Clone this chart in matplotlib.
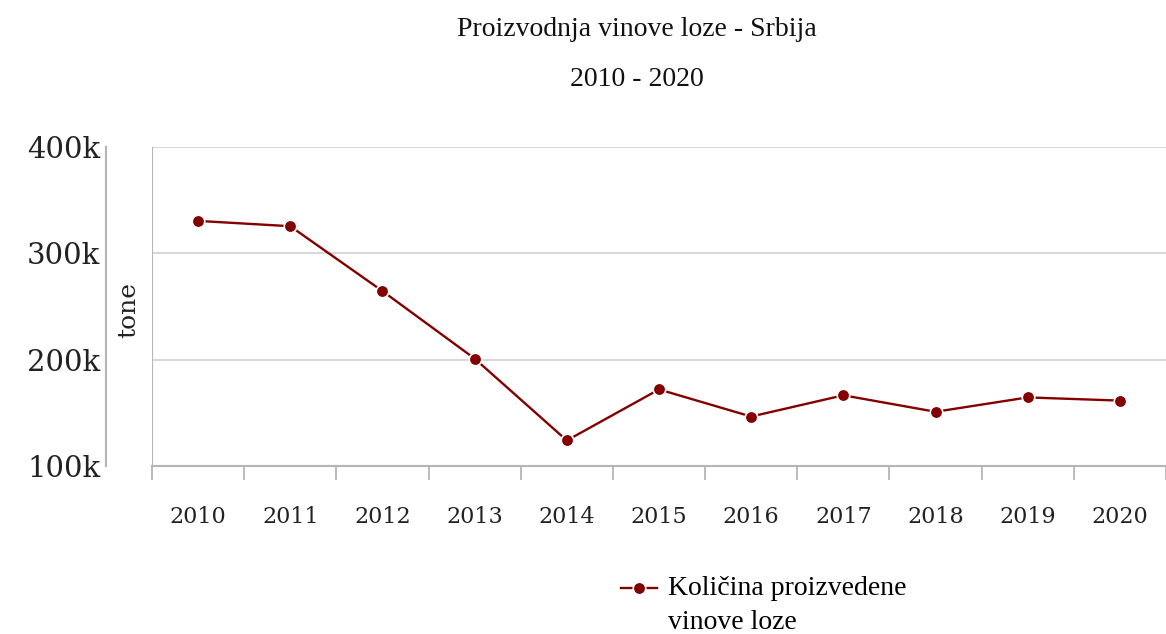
import numpy as np
import matplotlib.pyplot as plt
from matplotlib.ticker import FixedLocator, FuncFormatter

# Data
years = ["2010", "2011", "2012", "2013", "2014", "2015",
         "2016", "2017", "2018", "2019", "2020"]
tonnes = [330500, 325500, 264500, 201000, 124000, 172000,
          146500, 166500, 151000, 164500, 161500]
y_ticks = [100000, 200000, 300000, 400000]

line_color = "#840000"
grid_color = "#d3d3d3"
axis_color = "#b5b5b5"

fig = plt.figure(figsize=(11.66, 6.34), dpi=100)
ax = fig.add_axes([152 / 1166, 1 - 466 / 634, 1014 / 1166, 319 / 634])

x = list(range(len(years)))
ax.plot(x, tonnes, color=line_color, linewidth=1.7, marker="o",
        markersize=9, markeredgecolor="white", markeredgewidth=1.2,
        label="Količina proizvedene\nvinove loze", zorder=3)

ax.set_xlim(-0.5, len(years) - 0.5)
ax.set_ylim(100000, 400000)

# y axis: detached spine with labels to its left
ax.yaxis.set_major_locator(FixedLocator(y_ticks))
ax.yaxis.set_major_formatter(FuncFormatter(lambda v, p: f"{int(v / 1000)}k"))
ax.spines["left"].set_position(("outward", 33))
ax.spines["left"].set_color(axis_color)
ax.spines["left"].set_linewidth(1.5)
ax.tick_params(axis="y", length=0, pad=4, labelsize=21, labelcolor="#222222")
for lab in ax.get_yticklabels():
    lab.set_family("DejaVu Serif")
ax.grid(axis="y", color=grid_color, linewidth=1.3)
ax.axvline(-0.5, color=axis_color, linewidth=1.5)

# x axis: ticks on band boundaries, labels at band centres
ax.set_xticks(x)
ax.set_xticklabels(years, family="DejaVu Serif", fontsize=16, color="#222222")
ax.set_xticks([i - 0.5 for i in range(len(years) + 1)], minor=True)
ax.tick_params(axis="x", which="major", length=0, pad=29)
ax.tick_params(axis="x", which="minor", length=10, width=1.3, color=axis_color)
ax.spines["bottom"].set_color(axis_color)
ax.spines["bottom"].set_linewidth(1.5)
ax.spines["top"].set_visible(False)
ax.spines["right"].set_visible(False)

ax.set_ylabel("tone", family="DejaVu Serif", fontsize=18, color="#222222")
ax.yaxis.set_label_coords((140 - 152) / 1014, (466 - 310) / 319)

fig.text(637 / 1166, 1 - 30 / 634, "Proizvodnja vinove loze - Srbija",
         family="Liberation Serif", fontsize=20, ha="center", va="center",
         color="#111111")
fig.text(637 / 1166, 1 - 79 / 634, "2010 - 2020",
         family="Liberation Serif", fontsize=20, ha="center", va="center",
         color="#111111")

leg = ax.legend(loc="upper left", bbox_to_anchor=(596 / 1166, 1 - 551 / 634),
                bbox_transform=fig.transFigure, frameon=False,
                prop={"family": "Liberation Serif", "size": 20},
                handlelength=1.3, handletextpad=0.4, labelspacing=0.2)
for t in leg.get_texts():
    t.set_linespacing(1.45)
# put the legend marker beside the first line of the label
for ln in leg.get_lines():
    ln.set_ydata(np.asarray(ln.get_ydata()) + 12)

fig.savefig("out.png", dpi=100)
